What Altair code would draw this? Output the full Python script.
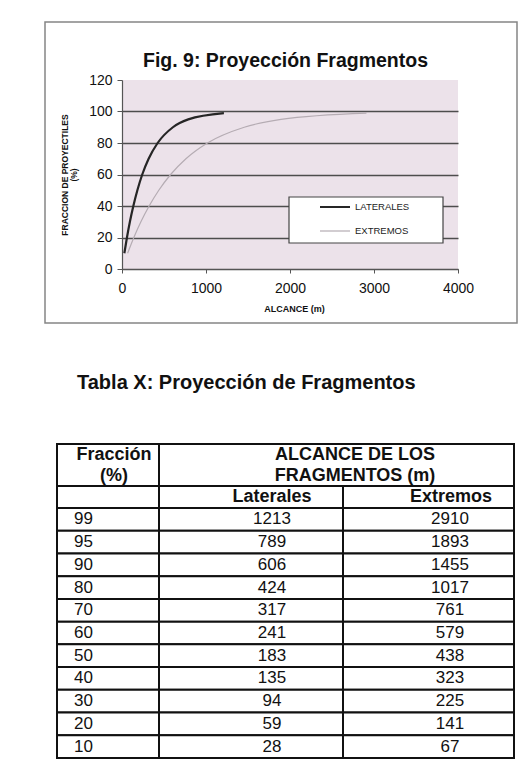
import altair as alt
import pandas as pd

# ---- data ----
fraccion = [99, 95, 90, 80, 70, 60, 50, 40, 30, 20, 10]
laterales = [1213, 789, 606, 424, 317, 241, 183, 135, 94, 59, 28]
extremos = [2910, 1893, 1455, 1017, 761, 579, 438, 323, 225, 141, 67]
series = ["LATERALES", "EXTREMOS"]
x_ticks = [0, 1000, 2000, 3000, 4000]
y_ticks = [0, 20, 40, 60, 80, 100, 120]
chart_title = "Fig. 9: Proyección Fragmentos"
table_title = "Tabla X: Proyección de Fragmentos"
x_title = "ALCANCE (m)"
y_title = ["FRACCION DE PROYECTILES", "(%)"]
head_frac = ["Fracción", "(%)"]
head_alc = ["ALCANCE DE LOS", "FRAGMENTOS (m)"]
head_cols = ["Laterales", "Extremos"]

FONT = "Liberation Sans"

long_df = pd.DataFrame(
    {
        "alcance": laterales + extremos,
        "fraccion": fraccion + fraccion,
        "serie": [series[0]] * len(laterales) + [series[1]] * len(extremos),
    }
)
table_df = pd.DataFrame({"fraccion": fraccion, "laterales": laterales, "extremos": extremos})
one = pd.DataFrame({"k": [0]})

# ---- frame and titles ----
frame = alt.Chart(one).mark_rect(fill=None, stroke="#858585", strokeWidth=1.5).encode(
    x=alt.value(-77), x2=alt.value(395), y=alt.value(-58), y2=alt.value(243)
)
title_txt = alt.Chart(one).mark_text(
    text=chart_title, font=FONT, fontSize=19.5, fontWeight="bold", color="#111",
    align="center", baseline="alphabetic"
).encode(x=alt.value(163.5), y=alt.value(-13))

# ---- line chart ----
xaxis = alt.Axis(
    values=x_ticks, format="d", grid=False, tickSize=4, tickColor="#555", domainColor="#555",
    domainWidth=1.2, labelPadding=8, labelFontSize=14, labelFont=FONT, labelColor="#111",
    labelFlush=False, labelOverlap=False, labelBound=False,
    title=x_title, titleFont=FONT, titleFontSize=9, titleFontWeight="bold", titleColor="#111",
    titleX=172, titleY=39, titleAlign="center", titleBaseline="middle",
)
yaxis = alt.Axis(
    values=y_ticks, format="d", grid=True, gridColor="#4d4d4d", gridWidth=1.5,
    gridOpacity={"condition": {"test": "datum.value === 120", "value": 0}, "value": 1},
    tickSize=5, tickColor="#555", domainColor="#555", domainWidth=1.2, labelPadding=5,
    labelFontSize=14, labelFont=FONT, labelColor="#111",
    title=y_title, titleFont=FONT, titleFontSize=8.5, titleFontWeight="bold", titleColor="#111",
    titleAngle=270, titleX=-58, titleY=94.5, titleAlign="center", titleBaseline="middle",
    titleLineHeight=9.5,
)
lines = alt.Chart(long_df).mark_line(interpolate="monotone").encode(
    x=alt.X("alcance:Q", scale=alt.Scale(domain=[0, 4000], nice=False), axis=xaxis),
    y=alt.Y("fraccion:Q", scale=alt.Scale(domain=[0, 120], nice=False), axis=yaxis),
    color=alt.Color("serie:N", scale=alt.Scale(domain=series, range=["#262626", "#b5acb3"]), legend=None),
    strokeWidth=alt.StrokeWidth("serie:N", scale=alt.Scale(domain=series, range=[2.2, 1.2]), legend=None),
)

# ---- legend (drawn) ----
leg_box = alt.Chart(one).mark_rect(fill="white", stroke="#444", strokeWidth=1.2).encode(
    x=alt.value(167), x2=alt.value(321), y=alt.value(117), y2=alt.value(163)
)
leg_l1 = alt.Chart(one).mark_rule(color="#262626", strokeWidth=2).encode(
    x=alt.value(198), x2=alt.value(228), y=alt.value(127)
)
leg_l2 = alt.Chart(one).mark_rule(color="#b5acb3", strokeWidth=1.2).encode(
    x=alt.value(198), x2=alt.value(228), y=alt.value(151)
)
leg_t1 = alt.Chart(one).mark_text(
    text=series[0], font=FONT, fontSize=9.5, color="#222", align="left", baseline="middle"
).encode(x=alt.value(233), y=alt.value(127))
leg_t2 = alt.Chart(one).mark_text(
    text=series[1], font=FONT, fontSize=9.5, color="#222", align="left", baseline="middle"
).encode(x=alt.value(233), y=alt.value(151))

# ---- table ----
BORDER = dict(fill="white", stroke="#111", strokeWidth=2)
cols = [(-65, 37), (37, 221), (221, 392)]
yband = alt.Scale(domain=fraccion, range=[428, 678], paddingInner=0, paddingOuter=0)
ycell = alt.Y("fraccion:O", scale=yband, axis=None, sort=None)

table_layers = []
# header cells
table_layers.append(alt.Chart(one).mark_rect(**BORDER).encode(
    x=alt.value(cols[0][0]), x2=alt.value(cols[0][1]), y=alt.value(364), y2=alt.value(406)))
table_layers.append(alt.Chart(one).mark_rect(**BORDER).encode(
    x=alt.value(cols[1][0]), x2=alt.value(cols[2][1]), y=alt.value(364), y2=alt.value(406)))
for c0, c1 in cols:
    table_layers.append(alt.Chart(one).mark_rect(**BORDER).encode(
        x=alt.value(c0), x2=alt.value(c1), y=alt.value(406), y2=alt.value(428)))
# data cells
for c0, c1 in cols:
    table_layers.append(alt.Chart(table_df).mark_rect(**BORDER).encode(
        x=alt.value(c0), x2=alt.value(c1), y=ycell))

HEAD = dict(font=FONT, fontSize=18, fontWeight="bold", color="#111", baseline="middle", lineHeight=20.5)
table_layers.append(alt.Chart(one).mark_text(text=head_frac, align="center", **HEAD).encode(
    x=alt.value(-8), y=alt.value(375)))
table_layers.append(alt.Chart(one).mark_text(text=head_alc, align="center", **HEAD).encode(
    x=alt.value(233), y=alt.value(375)))
table_layers.append(alt.Chart(one).mark_text(text=head_cols[0], align="center", **HEAD).encode(
    x=alt.value(150), y=alt.value(417)))
table_layers.append(alt.Chart(one).mark_text(text=head_cols[1], align="center", **HEAD).encode(
    x=alt.value(329), y=alt.value(417)))

BODY = dict(font=FONT, fontSize=17, color="#111", baseline="middle")
table_layers.append(alt.Chart(table_df).mark_text(align="left", **BODY).encode(
    x=alt.value(-48), y=ycell, text="fraccion:N"))
table_layers.append(alt.Chart(table_df).mark_text(align="center", **BODY).encode(
    x=alt.value(150), y=ycell, text="laterales:N"))
table_layers.append(alt.Chart(table_df).mark_text(align="center", **BODY).encode(
    x=alt.value(328), y=ycell, text="extremos:N"))

table = alt.layer(*table_layers)

table_title_txt = alt.Chart(one).mark_text(
    text=table_title, font=FONT, fontSize=20, fontWeight="bold", color="#111",
    align="left", baseline="alphabetic"
).encode(x=alt.value(-45), y=alt.value(309))

chart = alt.layer(
    frame, title_txt, lines, leg_box, leg_l1, leg_l2, leg_t1, leg_t2, table, table_title_txt
).resolve_scale(
    x="independent", y="independent"
).properties(
    width=336, height=189,
    autosize=alt.AutoSizeParams(type="none"),
    padding={"left": 122, "top": 80, "right": 68, "bottom": 496},
    background="white",
).configure_view(fill="#ece2ea", stroke=None)

chart.save("out.html", embed_options={"renderer": "svg", "actions": False})
